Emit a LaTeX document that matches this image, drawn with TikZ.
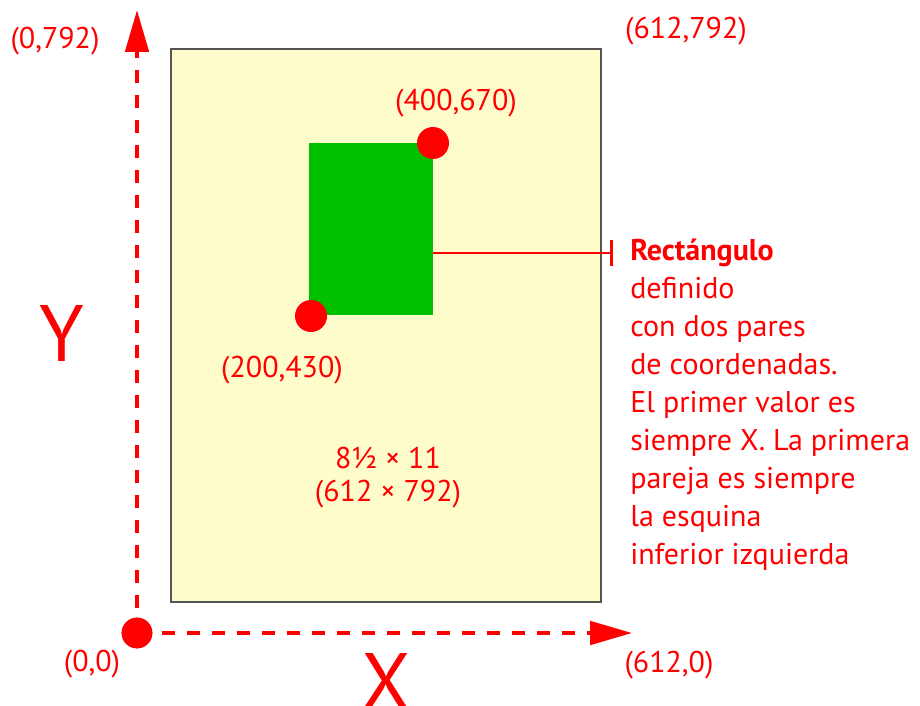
\documentclass[tikz,border=0pt]{standalone}
\usepackage{fontspec}
\setmainfont{PT Sans}
\usetikzlibrary{arrows.meta}
\definecolor{pagefill}{HTML}{FFFCCC}
\definecolor{rectgreen}{HTML}{00C000}
\definecolor{ptred}{HTML}{FF0000}
\definecolor{pageborder}{HTML}{555555}
\begin{document}
\begin{tikzpicture}[x=0.75pt,y=-0.75pt,
  lbl/.style={text=ptred,font=\fontsize{22.5}{26}\selectfont,inner sep=0pt},
  biglbl/.style={text=ptred,font=\fontsize{60}{60}\selectfont,inner sep=0pt},
  axisline/.style={draw=ptred,line width=3pt,dash pattern=on 9.75pt off 9pt,
    -{Triangle[length=31.5pt,width=17.5pt]}},
  dot/.style={circle,fill=ptred,inner sep=0pt,minimum size=24pt},
  pagebox/.style={draw=pageborder,fill=pagefill,line width=1.2pt,inner sep=0pt,
    minimum width=322.5pt,minimum height=414.75pt},
  greenbox/.style={fill=rectgreen,inner sep=0pt,minimum width=93pt,minimum height=129pt},
  conn/.style={draw=ptred,line width=2pt,-{Bar[width=19pt]}}
]
\useasboundingbox (0,0) rectangle (920,706);
% page
\node[pagebox] (page) at (386,325.5) {};
% green rectangle
\node[greenbox] (greenrect) at (371,229) {};
% corner dots
\node[dot] (tr) at (433,143) {};
\node[dot] (bl) at (311,316) {};
% axes
\coordinate (ytip) at (137,10);
\coordinate (xtip) at (632,633);
\node[dot,minimum size=23pt] (origin) at (137,633) {};
\draw[axisline] (origin.center) -- (ytip);
\draw[axisline] (origin.center) -- (xtip);
\node[dot,minimum size=23pt] at (origin) {};
% description
\coordinate (barend) at (613,253);
\draw[conn] (greenrect.east |- barend) -- (barend);
\node[lbl,anchor=base west,align=left,font=\fontsize{22.5}{28.5}\selectfont] (desc) at (630,564)
  {\textbf{Rectángulo}\\definido\\con dos pares\\de coordenadas.\\El primer valor es\\siempre X. La primera\\pareja es siempre\\la esquina\\inferior izquierda};
% labels
\node[lbl] (l0792) at (55,41) {(0,792)};
\node[lbl] (l612792) at (686,31) {(612,792)};
\node[lbl] (l400670) at (456,103) {(400,670)};
\node[lbl] (l200430) at (282,370) {(200,430)};
\node[lbl] (l00) at (92,664) {(0,0)};
\node[lbl] (l6120) at (669,665) {(612,0)};
\node[lbl] (size1) at (388,458) {8½ × 11};
\node[lbl] (size2) at (388,494) {(612 × 792)};
\node[biglbl,anchor=base] (ylbl) at (62,361) {Y};
\node[biglbl,anchor=base] (xlbl) at (386,709) {X};
\end{tikzpicture}
\end{document}
